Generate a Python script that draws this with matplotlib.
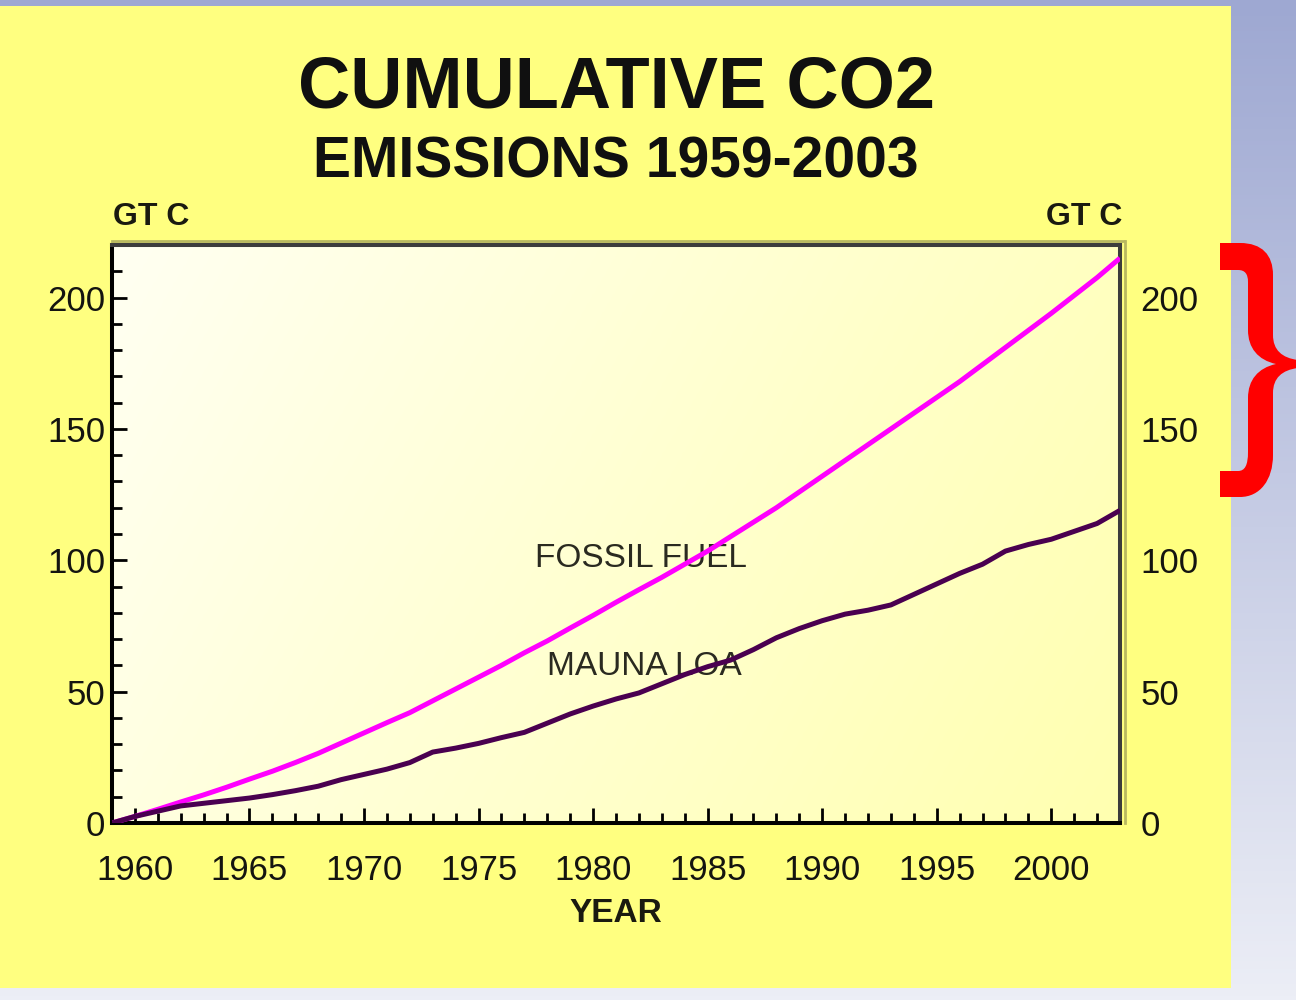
import numpy as np
import matplotlib
matplotlib.use("Agg")
import matplotlib.pyplot as plt
from matplotlib.path import Path
from matplotlib.patches import PathPatch, Rectangle
from matplotlib.colors import to_rgb
from matplotlib.ticker import MultipleLocator

# dados (GT C acumulado desde 1959)
years = list(range(1959, 2004))
fossil_fuel = [
    0.0, 2.5, 5.2, 8.0, 10.7, 13.6, 16.7, 19.7, 23.0, 26.5,
    30.4, 34.3, 38.2, 42.0, 46.5, 51.0, 55.5, 60.0, 64.8, 69.3,
    74.2, 79.0, 84.0, 88.8, 93.5, 98.5, 103.5, 109.0, 114.5, 120.0,
    126.0, 132.0, 138.0, 144.0, 150.0, 156.0, 162.0, 168.0, 174.5, 181.0,
    187.5, 194.0, 200.8, 207.6, 215.0,
]
mauna_loa = [
    0.0, 2.5, 4.5, 6.5, 7.5, 8.5, 9.5, 10.8, 12.3, 14.0,
    16.5, 18.5, 20.5, 23.0, 27.0, 28.5, 30.3, 32.5, 34.5, 38.0,
    41.5, 44.5, 47.2, 49.5, 53.0, 56.5, 59.5, 62.0, 66.0, 70.5,
    74.0, 77.0, 79.5, 81.0, 83.0, 87.0, 91.0, 95.0, 98.5, 103.5,
    106.0, 108.0, 111.0, 114.0, 119.0,
]

title = "CUMULATIVE CO2"
subtitle = "EMISSIONS 1959-2003"
unit_label = "GT C"
x_label = "YEAR"

W, H = 1296, 1000


def fig_xy(px, py):
    """converte pixels (origem no canto superior esquerdo) para fracao da figura"""
    return px / W, 1 - py / H


def gradient(c0, c1, t):
    a = np.array(to_rgb(c0))
    b = np.array(to_rgb(c1))
    return a + (b - a) * t[..., None]


plt.rcParams["font.family"] = ["Liberation Sans", "DejaVu Sans"]

fig = plt.figure(figsize=(W / 100, H / 100), dpi=100)

# fundo: degrade azulado + painel amarelo
bg = fig.add_axes([0, 0, 1, 1], zorder=-10)
bg.axis("off")
tv = np.linspace(0, 1, 256).reshape(-1, 1)
bg.imshow(gradient("#9EA8D2", "#ECEEF6", tv), extent=[0, 1, 0, 1], aspect="auto")
bg.add_patch(Rectangle((0, 0.012), 1231 / W, 0.982, facecolor="#FFFF80",
                       edgecolor="none", transform=bg.transAxes))
bg.set_xlim(0, 1)
bg.set_ylim(0, 1)

ax = fig.add_axes([112 / W, 1 - 823 / H, 1008 / W, 578 / H])

# degrade dentro da area do grafico
xx, yy = np.meshgrid(np.linspace(0, 1, 200), np.linspace(1, 0, 200))
t = 0.75 * xx + 0.25 * (1 - yy)
ax.imshow(gradient("#FFFFF2", "#FFFFB0", t), extent=[1959, 2003, 0, 220],
          aspect="auto", zorder=0)

ax.plot(years, fossil_fuel, color="#FF00FF", lw=3.6, zorder=3, solid_capstyle="butt")
ax.plot(years, mauna_loa, color="#4A0050", lw=3.6, zorder=3, solid_capstyle="butt")

ax.set_xlim(1959, 2003)
ax.set_ylim(0, 220)

ax.text(1982.1, 97.3, "FOSSIL FUEL", fontsize=24, color="#2A2A20",
        ha="center", va="baseline", zorder=2)
ax.text(1982.25, 56.3, "MAUNA LOA", fontsize=24, color="#2A2A20",
        ha="center", va="baseline", zorder=2)

# eixos
for side in ["left", "bottom"]:
    ax.spines[side].set_linewidth(2.9)
    ax.spines[side].set_color("black")
for side in ["top", "right"]:
    ax.spines[side].set_linewidth(2.9)
    ax.spines[side].set_color("#3C3C3C")
ax.plot([0, 1.004], [1.007, 1.007], transform=ax.transAxes, color="#B8B860",
        lw=2, clip_on=False, zorder=1)
ax.plot([1.005, 1.005], [0, 1.007], transform=ax.transAxes, color="#B8B860",
        lw=2, clip_on=False, zorder=1)

ax.xaxis.set_major_locator(MultipleLocator(5))
ax.xaxis.set_minor_locator(MultipleLocator(1))
ax.yaxis.set_major_locator(MultipleLocator(50))
ax.yaxis.set_minor_locator(MultipleLocator(10))
ax.tick_params(axis="both", which="both", direction="in", color="black",
               width=2, labelcolor="#141410", labelsize=25)
ax.tick_params(axis="x", which="major", length=11, pad=22)
ax.tick_params(axis="x", which="minor", length=7)
ax.tick_params(axis="y", which="major", length=11, pad=5)
ax.tick_params(axis="y", which="minor", length=7)
ax.tick_params(axis="y", which="both", right=True)

# rotulos do lado direito
ax2 = ax.twinx()
ax2.set_ylim(0, 220)
ax2.yaxis.set_major_locator(MultipleLocator(50))
ax2.yaxis.set_minor_locator(MultipleLocator(10))
ax2.tick_params(axis="y", which="both", right=False, labelright=True,
                labelcolor="#141410", labelsize=25, pad=11)
for s in ax2.spines.values():
    s.set_visible(False)

# textos
fig.text(*fig_xy(616, 108), title, fontsize=52, weight="bold",
         ha="center", va="baseline", color="#101010")
fig.text(*fig_xy(616, 178), subtitle, fontsize=41, weight="bold",
         ha="center", va="baseline", color="#101010")
fig.text(*fig_xy(113, 225), unit_label, fontsize=23, weight="bold",
         ha="left", va="baseline", color="#1A1A10")
fig.text(*fig_xy(1122, 225), unit_label, fontsize=23, weight="bold",
         ha="right", va="baseline", color="#1A1A10")
fig.text(*fig_xy(616, 922), x_label, fontsize=24, weight="bold",
         ha="center", va="baseline", color="#1A1A10")

# chave vermelha a direita
M, L, C4 = Path.MOVETO, Path.LINETO, Path.CURVE4
brace = [
    (M, (1220, 243)), (L, (1240, 243)),
    (C4, (1262, 243)), (C4, (1273, 255)), (C4, (1273, 275)),
    (L, (1273, 335)),
    (C4, (1273, 350)), (C4, (1282, 358)), (C4, (1298, 360)),
    (L, (1298, 368)),
    (C4, (1282, 370)), (C4, (1273, 378)), (C4, (1273, 393)),
    (L, (1273, 455)),
    (C4, (1273, 480)), (C4, (1260, 497)), (C4, (1240, 497)),
    (L, (1220, 497)), (L, (1220, 471)), (L, (1238, 471)),
    (C4, (1245, 471)), (C4, (1248, 465)), (C4, (1248, 452)),
    (L, (1248, 398)),
    (C4, (1248, 380)), (C4, (1258, 368)), (C4, (1276, 364)),
    (C4, (1258, 360)), (C4, (1248, 348)), (C4, (1248, 330)),
    (L, (1248, 282)),
    (C4, (1248, 274)), (C4, (1245, 270)), (C4, (1238, 270)),
    (L, (1220, 270)), (Path.CLOSEPOLY, (1220, 243)),
]
codes = [c for c, _ in brace]
verts = [fig_xy(*p) for _, p in brace]
fig.add_artist(PathPatch(Path(verts, codes), facecolor="#FF0000",
                         edgecolor="none", transform=fig.transFigure))

fig.savefig("out.png", dpi=100)
